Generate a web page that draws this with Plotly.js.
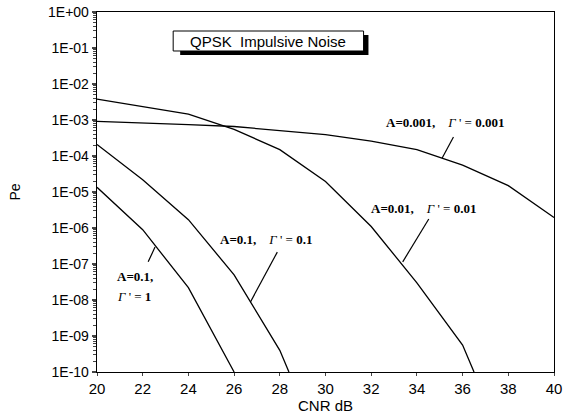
<!DOCTYPE html>
<html><head><meta charset="utf-8">
<script src="https://cdn.plot.ly/plotly-3.0.1.min.js"></script>
<style>html,body{margin:0;padding:0;background:#fff}#c{width:563px;height:415px}</style>
</head><body><div id="c"></div>
<script>
// CNR (dB) and Pe values
const cnr1 = [20,22,24,26,28,30,32,34,36,38,40];
const pe1  = [9.2e-4,8.1e-4,7.4e-4,6.6e-4,5.0e-4,3.9e-4,2.6e-4,1.5e-4,5.6e-5,1.5e-5,1.95e-6]; // A=0.001, Γ'=0.001
const cnr2 = [20,22,24,26,28,30,32,34,36,36.5];
const pe2  = [3.8e-3,2.35e-3,1.45e-3,5.5e-4,1.5e-4,1.95e-5,1.1e-6,3e-8,5.6e-10,1e-10];   // A=0.01, Γ'=0.01
const cnr3 = [20,22,24,26,28,28.4];
const pe3  = [2.1e-4,2.2e-5,1.7e-6,5e-8,4e-10,1e-10];                                   // A=0.1, Γ'=0.1
const cnr4 = [20,22,24,26];
const pe4  = [1.35e-5,9e-7,2.2e-8,1e-10];                                                // A=0.1, Γ'=1

const yTickVals = [1,1e-1,1e-2,1e-3,1e-4,1e-5,1e-6,1e-7,1e-8,1e-9,1e-10];
const yTickText = ["1E+00","1E-01","1E-02","1E-03","1E-04","1E-05","1E-06","1E-07","1E-08","1E-09","1E-10"];
const xTickVals = [20,22,24,26,28,30,32,34,36,38,40];

const minorVals = [];
for (let e = -10; e < 0; e++) for (let m = 2; m <= 9; m++) minorVals.push(m * Math.pow(10, e));

const line = {color:'#000', width:1.3};
const traces = [
  {x:cnr1, y:pe1, mode:'lines', line:line, hoverinfo:'skip'},
  {x:cnr2, y:pe2, mode:'lines', line:line, hoverinfo:'skip'},
  {x:cnr3, y:pe3, mode:'lines', line:line, hoverinfo:'skip'},
  {x:cnr4, y:pe4, mode:'lines', line:line, hoverinfo:'skip'}
];

const serif = {family:'Liberation Serif, Times New Roman, serif', size:13, color:'#000'};
const S = '\u00a0';
function lab(x, y, t){ return {x:x, y:y, xref:'x', yref:'paper', xanchor:'left', yanchor:'middle', showarrow:false, text:t, font:serif}; }
const G = '<i>Γ</i>' + S + "'" + S + '=' + S;

const layout = {
  width:563, height:415,
  margin:{l:97, r:9, t:12, b:43},
  paper_bgcolor:'#fff', plot_bgcolor:'#fff',
  showlegend:false,
  font:{family:'Liberation Sans, Arial, sans-serif', color:'#000'},
  xaxis:{range:[20,40], tickmode:'array', tickvals:xTickVals, ticks:'outside', ticklen:3, tickwidth:1,
         showline:true, linecolor:'#000', linewidth:1.3, mirror:true, showgrid:false, zeroline:false,
         tickfont:{size:15}, title:{text:'CNR dB', font:{size:15}, standoff:3}},
  yaxis:{type:'log', range:[-10,0], tickmode:'array', tickvals:yTickVals, ticktext:yTickText,
         ticks:'outside', ticklen:4, tickwidth:2.5, showline:true, linecolor:'#000', linewidth:1.3, mirror:true,
         showgrid:false, zeroline:false, tickfont:{size:14},
         minor:{tickmode:'array', tickvals:minorVals, ticks:'outside', ticklen:3, tickwidth:1, showgrid:false},
         title:{text:'Pe', font:{size:14}, standoff:24}},
  shapes:[
    {type:'rect', xref:'paper', yref:'paper', x0:0.182, x1:0.594, y0:0.8806, y1:0.936, fillcolor:'#000', line:{width:0}},
    {type:'rect', xref:'paper', yref:'paper', x0:0.1667, x1:0.5833, y0:0.8917, y1:0.9472, fillcolor:'#fff', line:{color:'#000', width:1}},
    {type:'line', xref:'x', yref:'paper', x0:35.1, x1:35.6, y0:0.594, y1:0.653, line:{color:'#000', width:1.2}},
    {type:'line', xref:'x', yref:'paper', x0:33.38, x1:34.52, y0:0.306, y1:0.425, line:{color:'#000', width:1.2}},
    {type:'line', xref:'x', yref:'paper', x0:26.71, x1:27.89, y0:0.194, y1:0.333, line:{color:'#000', width:1.2}},
    {type:'line', xref:'x', yref:'paper', x0:22.54, x1:22.24, y0:0.347, y1:0.306, line:{color:'#000', width:1.2}}
  ],
  annotations:[
    {x:0.375, y:0.919, xref:'paper', yref:'paper', xanchor:'center', yanchor:'middle', showarrow:false,
     text:'QPSK' + S + S + 'Impulsive Noise',
     font:{family:'Liberation Sans, Arial, sans-serif', size:15, color:'#000'}},
    lab(32.54, 0.694, '<b>A=0.001,</b>' + S+S+S+S + G + '<b>0.001</b>'),
    lab(31.89, 0.453, '<b>A=0.01,</b>' + S+S+S+S + G + '<b>0.01</b>'),
    lab(25.31, 0.369, '<b>A=0.1,</b>' + S+S+S+S + G + '<b>0.1</b>'),
    lab(20.79, 0.264, '<b>A=0.1,</b>'),
    lab(20.79, 0.211, G + '<b>1</b>')
  ]
};
Plotly.newPlot('c', traces, layout, {staticPlot:true, displayModeBar:false});
</script></body></html>
